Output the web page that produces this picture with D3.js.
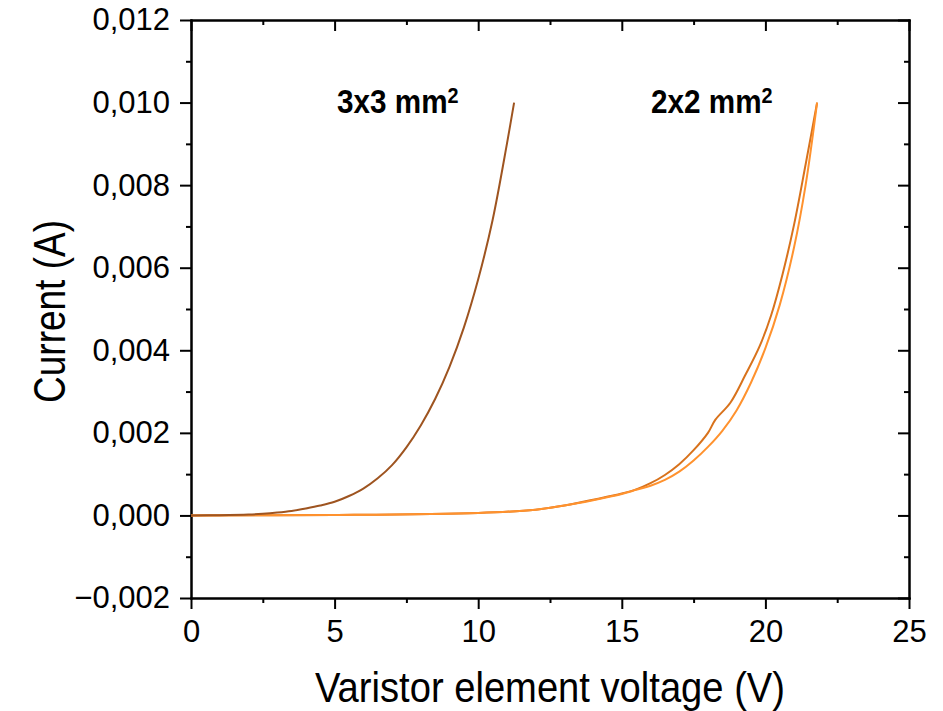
<!DOCTYPE html>
<html>
<head>
<meta charset="utf-8">
<title>Varistor I-V</title>
<script src="https://d3js.org/d3.v7.min.js"></script>
<style>
  body { margin: 0; background: #fff; }
  .axis path, .axis line { stroke: #000; stroke-width: 2; }
  .axis text { font-family: "Liberation Sans", Arial, sans-serif; font-size: 31px; fill: #000; }
</style>
</head>
<body>
<script>
// 3x3 mm2 element
var v3 = [0, 1, 2, 2.5, 3, 3.5, 4, 4.5, 5, 5.5, 6, 6.5, 7, 7.5, 8, 8.5, 9, 9.5, 10, 10.5, 11, 11.25];
var i3 = [0, 0.000005, 0.00002, 0.00004, 0.00007, 0.00011, 0.00017, 0.00024, 0.00033, 0.00047, 0.00065, 0.00090,
          0.00122, 0.00165, 0.00218, 0.00282, 0.00360, 0.00455, 0.00572, 0.00715, 0.00900, 0.01000];

// 2x2 mm2 element, first sweep (darker)
var v2a = [0, 5, 10, 12, 13, 14, 15, 15.5, 16, 16.5, 17, 17.5, 18, 18.26, 18.78, 19.3, 19.8, 20.2, 20.6, 21.0, 21.4, 21.8];
var i2a = [0, 0.00001, 0.00006, 0.00014, 0.00024, 0.00038, 0.00053, 0.00063, 0.00078, 0.00098, 0.00124, 0.00158,
           0.00200, 0.00232, 0.00273, 0.00340, 0.00410, 0.00485, 0.00585, 0.00705, 0.00850, 0.01000];

// 2x2 mm2 element, second sweep (lighter)
var v2b = [0, 5, 10, 12, 13, 14, 15, 15.5, 16, 16.5, 17, 17.5, 18, 18.5, 19, 19.5, 20, 20.5, 21, 21.4, 21.8];
var i2b = [0, 0.00001, 0.00006, 0.00014, 0.00024, 0.00037, 0.00052, 0.00062, 0.00072, 0.00086, 0.00106, 0.00133,
           0.00166, 0.00205, 0.00255, 0.00322, 0.00405, 0.00510, 0.00650, 0.00800, 0.01000];

var xTicks = [0, 5, 10, 15, 20, 25];
var yTicks = [-0.002, 0, 0.002, 0.004, 0.006, 0.008, 0.010, 0.012];

var width = 943, height = 711;

var x = d3.scaleLinear().domain([0, 25]).range([191, 909]);
var y = d3.scaleLinear().domain([-0.002, 0.012]).range([598, 20]);

var svg = d3.select("body").append("svg")
    .attr("width", width)
    .attr("height", height);

var fmt = d3.format(".3f");
var yFmt = function(d) { return fmt(d).replace(".", ","); };

var xMinor = d3.range(2.5, 25, 5);
var yMinor = d3.range(-0.001, 0.012, 0.002);

// bottom
svg.append("g").attr("class", "axis")
    .attr("transform", "translate(0,598)")
    .call(d3.axisBottom(x).tickValues(xTicks).tickSize(11).tickPadding(11).tickSizeOuter(0));
svg.append("g").attr("class", "axis")
    .attr("transform", "translate(0,598)")
    .call(d3.axisBottom(x).tickValues(xMinor).tickSize(5).tickFormat("").tickSizeOuter(0));

// left
svg.append("g").attr("class", "axis")
    .attr("transform", "translate(191,0)")
    .call(d3.axisLeft(y).tickValues(yTicks).tickSize(11).tickPadding(10).tickFormat(yFmt).tickSizeOuter(0));
svg.append("g").attr("class", "axis")
    .attr("transform", "translate(191,0)")
    .call(d3.axisLeft(y).tickValues(yMinor).tickSize(5).tickFormat("").tickSizeOuter(0));

// top (ticks inward)
svg.append("g").attr("class", "axis")
    .attr("transform", "translate(0,20)")
    .call(d3.axisTop(x).tickValues(xTicks).tickSize(-11).tickFormat("").tickSizeOuter(0));
svg.append("g").attr("class", "axis")
    .attr("transform", "translate(0,20)")
    .call(d3.axisTop(x).tickValues(xMinor).tickSize(-5).tickFormat("").tickSizeOuter(0));

// right (ticks inward)
svg.append("g").attr("class", "axis")
    .attr("transform", "translate(909,0)")
    .call(d3.axisRight(y).tickValues(yTicks).tickSize(-11).tickFormat("").tickSizeOuter(0));
svg.append("g").attr("class", "axis")
    .attr("transform", "translate(909,0)")
    .call(d3.axisRight(y).tickValues(yMinor).tickSize(-5).tickFormat("").tickSizeOuter(0));

svg.selectAll(".axis .domain").attr("stroke-linecap", "square");

var line = d3.line()
    .x(function(d) { return x(d[0]); })
    .y(function(d) { return y(d[1]); })
    .curve(d3.curveCatmullRom.alpha(0.5));

var series = [
  {v: v2a, i: i2a, color: "#d8721c"},
  {v: v2b, i: i2b, color: "#ff922e"},
  {v: v3, i: i3, color: "#9e5420"}
];

svg.selectAll(".curve")
  .data(series)
  .enter().append("path")
    .attr("class", "curve")
    .attr("fill", "none")
    .attr("stroke-width", 2)
    .attr("stroke", function(d) { return d.color; })
    .attr("d", function(d) { return line(d.v.map(function(v, k) { return [v, d.i[k]]; })); });

// axis titles
svg.append("text")
    .attr("x", 315)
    .attr("y", 702)
    .attr("font-family", "Liberation Sans, Arial, sans-serif")
    .attr("font-size", 42)
    .attr("textLength", 470)
    .attr("lengthAdjust", "spacingAndGlyphs")
    .text("Varistor element voltage (V)");

svg.append("text")
    .attr("transform", "translate(65,403) rotate(-90)")
    .attr("font-family", "Liberation Sans, Arial, sans-serif")
    .attr("font-size", 44)
    .attr("textLength", 183)
    .attr("lengthAdjust", "spacingAndGlyphs")
    .text("Current (A)");

// curve labels
var labels = [
  {text: "3x3 mm", x: 337},
  {text: "2x2 mm", x: 651}
];

var lab = svg.selectAll(".lab")
  .data(labels)
  .enter().append("text")
    .attr("class", "lab")
    .attr("transform", function(d) { return "translate(" + d.x + ",113) scale(0.9,1)"; })
    .attr("font-family", "Liberation Sans, Arial, sans-serif")
    .attr("font-weight", "bold")
    .attr("font-size", 33);
lab.append("tspan").text(function(d) { return d.text; });
lab.append("tspan")
    .attr("dy", -10)
    .attr("font-size", 22)
    .text("2");
</script>
</body>
</html>
